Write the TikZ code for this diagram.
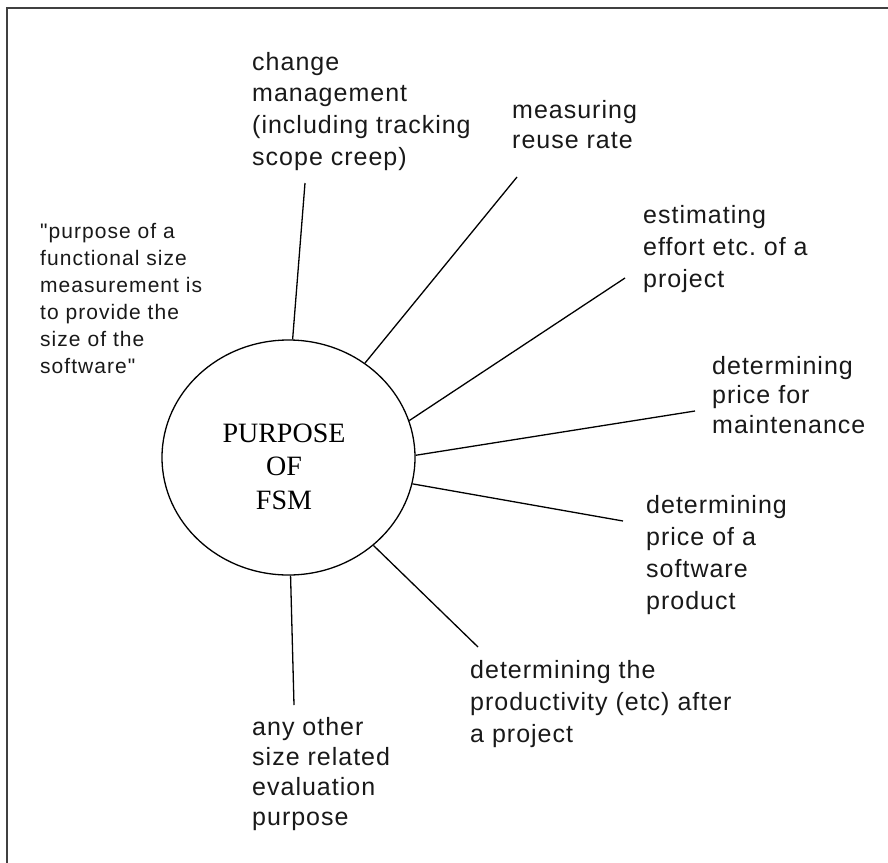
\documentclass[tikz,border=0pt]{standalone}
\usepackage{fontspec}
\setmainfont{Liberation Sans}[LetterSpace=4]
\newfontfamily\qfont{Liberation Sans}[LetterSpace=5]
\newfontfamily\fsmserif{Liberation Serif}
\usetikzlibrary{shapes.geometric}
\frenchspacing
\newcommand\stkl[2]{\vtop{\baselineskip=#1\lineskiplimit=-100pt\relax\halign{##\hfil\cr #2\crcr}}}
\newcommand\stkc[2]{\vtop{\baselineskip=#1\lineskiplimit=-100pt\relax\halign{\hfil##\hfil\cr #2\crcr}}}
\tikzset{
  lbl/.style={anchor=base west, inner sep=0pt, text=black!90, font=\fontsize{25}{30}\selectfont},
  qlbl/.style={anchor=base west, inner sep=0pt, text=black!90, font={\qfont\fontsize{21}{27}\selectfont}},
  spoke/.style={draw=black, line width=1.3pt},
  hub/.style={ellipse, draw=black, line width=1.3pt, minimum width=253pt, minimum height=235pt, inner sep=0pt},
}
\begin{document}
\begin{tikzpicture}[x=1pt,y=-1pt]
\useasboundingbox (0,0) rectangle (888,862);
\fill[white] (0,0) rectangle (888,862);
\draw[line width=2pt, black!75] (7,880) -- (7,8) -- (900,8);

\node[hub] (c) at (288.5,457.5) {};
\node[anchor=base, inner sep=0pt, font={\fsmserif\fontsize{28}{33.5}\selectfont}] (ct) at (284,442)
  {\stkc{33.5pt}{PURPOSE\cr OF\cr FSM}};

\node[qlbl] (q) at (40,238) {\stkl{27pt}{\char34 purpose of a\cr functional size\cr measurement is\cr to provide the\cr size of the\cr software\char34}};

\node[lbl] (cm) at (252,70) {\stkl{31.7pt}{change\cr management\cr (including tracking\cr scope creep)}};
\node[lbl] (mr) at (512,118) {\stkl{30pt}{measuring\cr reuse rate}};
\node[lbl] (est) at (643,223) {\stkl{32pt}{estimating\cr effort etc. of a\cr project}};
\node[lbl] (mt) at (712,374) {\stkl{29.5pt}{determining\cr price for\cr maintenance}};
\node[lbl] (pr) at (646,513) {\stkl{32pt}{determining\cr price of a\cr software\cr product}};
\node[lbl] (pd) at (470,678) {\stkl{32pt}{determining the\cr productivity (etc) after\cr a project}};
\node[lbl] (ot) at (252,735) {\stkl{30pt}{any other\cr size related\cr evaluation\cr purpose}};

\coordinate (e1) at (305,183);
\coordinate (e2) at (517,177);
\coordinate (e3) at (625,278);
\coordinate (e4) at (695,411);
\coordinate (e5) at (623,521);
\coordinate (e6) at (478,647);
\coordinate (e7) at (294,705);

\draw[spoke] (c.88.8) -- (e1);
\draw[spoke] (c.51.3) -- (e2);
\draw[spoke] (c.17) -- (e3);
\draw[spoke] (c.1.1) -- (e4);
\draw[spoke] (c.-12.6) -- (e5);
\draw[spoke] (c.-46) -- (e6);
\draw[spoke] (c.-89.8) -- (e7);
\end{tikzpicture}
\end{document}
